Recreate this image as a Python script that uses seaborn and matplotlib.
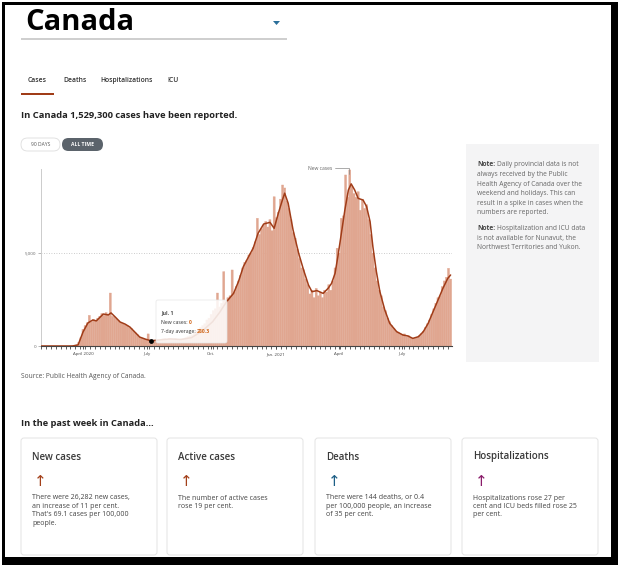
import matplotlib
matplotlib.use('Agg')
import matplotlib.pyplot as plt
import seaborn as sns
import pandas as pd
from matplotlib.patches import Rectangle, FancyBboxPatch, Polygon
from matplotlib.ticker import FixedLocator, MultipleLocator

sns.set_style('white')
plt.rcParams['font.family'] = ['Open Sans', 'DejaVu Sans']

# ---------------- data ----------------
start_date = '2020-02-01'
bar_dates = pd.date_range(start_date, '2021-09-10', freq='3D')
bar_cases = [
    0, 0, 0, 0, 0, 0, 0, 0, 0, 0, 0, 0, 0, 0, 5, 10, 30,
    60, 200, 450, 900, 1100, 1250, 1650, 1300, 1420, 1350, 1500, 1600, 1750, 1650, 1800, 1700,
    2850, 1600, 1550, 1450, 1350, 1250, 1200, 1150, 1100, 1000, 950, 800, 700, 600, 480, 430,
    380, 350, 650, 300, 250, 300, 330, 350, 320, 380, 400, 350, 420, 380, 360, 400,
    330, 350, 380, 400, 450, 500, 550, 600, 700, 800, 900, 1000, 1100, 1200, 1400, 1500,
    1700, 1900, 2000, 2850, 2100, 2300, 4000, 2400, 2600, 2700, 4090, 2900, 3200, 3500, 3800, 4200,
    4500, 4600, 4900, 5000, 5300, 5600, 6870, 6000, 6300, 6500, 6700, 6400, 6800, 6200, 8030, 6900,
    7200, 7900, 8660, 8500, 7800, 7400, 6800, 6100, 5800, 5200, 4700, 4200, 4100, 3600, 3300, 2800,
    3000, 2600, 3100, 2700, 2900, 2600, 3000, 2900, 3300, 3000, 3500, 4200, 5260, 5000, 6870, 7000,
    9200, 8000, 9470, 8600, 8200, 8000, 8300, 7300, 7900, 7400, 7600, 6800, 6000, 5000, 4200, 3500,
    3000, 2700, 2100, 1900, 1500, 1300, 1100, 950, 800, 750, 650, 600, 650, 500, 550, 450,
    400, 420, 450, 550, 650, 800, 1000, 1200, 1400, 1700, 2000, 2300, 2600, 2700, 3200, 3500,
    3700, 4180, 3600,
]
bar_day = [(d - pd.Timestamp(start_date)).days for d in bar_dates][:len(bar_cases)]

# 7-day average, days since 2020-02-01
avg_day = [0, 45, 53, 60, 67, 74, 79, 89, 96, 100, 106, 113, 120, 127, 134, 141, 149, 157,
           170, 185, 200, 215, 230, 245, 255, 265, 275, 282, 289, 296, 303, 310, 318, 327,
           333, 339, 344, 348, 353, 360, 368, 375, 382, 387, 394, 403, 410, 415, 420, 424,
           429, 434, 439, 443, 448, 453, 460, 465, 470, 474, 479, 484, 491, 498, 508, 517,
           524, 531, 539, 546, 553, 560, 567, 574, 581, 585]
avg_cases = [0, 0, 60, 750, 1240, 1400, 1350, 1720, 1670, 1780, 1560, 1290, 1180, 1020, 750, 480, 370, 280,
             330, 380, 350, 450, 800, 1300, 1800, 2380, 2830, 3460, 4270, 4770, 5260, 6060, 6560, 6650,
             6330, 7140, 7760, 8220, 7680, 6240, 4990, 4090, 3280, 2920, 2980, 2830, 3100, 3370, 3910, 4810,
             6060, 7320, 8390, 8720, 8390, 7940, 7850, 7500, 6690, 5340, 4000, 2920, 1940, 1220, 770, 590,
             540, 410, 500, 770, 1220, 1850, 2470, 3100, 3640, 3820]

tick_dates = ['2020-04-01', '2020-07-01', '2020-10-01', '2021-01-01', '2021-04-01', '2021-07-01']
tick_labels = ['April 2020', 'July', 'Oct.', 'Jan. 2021', 'April', 'July']
y_ticks = [0, 5000]
y_tick_labels = ['0', '5,000']

tabs = ['Cases', 'Deaths', 'Hospitalizations', 'ICU']
card_titles = ['New cases', 'Active cases', 'Deaths', 'Hospitalizations']
card_texts = [
    ["There were 26,282 new cases,", "an increase of 11 per cent.", "That's 69.1 cases per 100,000", "people."],
    ["The number of active cases", "rose 19 per cent."],
    ["There were 144 deaths, or 0.4", "per 100,000 people, an increase", "of 35 per cent."],
    ["Hospitalizations rose 27 per", "cent and ICU beds filled rose 25", "per cent."],
]
card_arrow_colors = ['#a3401a', '#a3401a', '#1d5f86', '#8a1c6a']
note1 = ["Daily provincial data is not", "always received by the Public", "Health Agency of Canada over the",
         "weekend and holidays. This can", "result in a spike in cases when the", "numbers are reported."]
note2 = ["Hospitalization and ICU data", "is not available for Nunavut, the", "Northwest Territories and Yukon."]

BAR = '#e0a690'
LINE = '#a03c18'
W, H = 624, 572

fig = plt.figure(figsize=(W / 100, H / 100), dpi=100)
renderer = fig.canvas.get_renderer()

# page layer (pixel coordinates, y downwards)
page = fig.add_axes([0, 0, 1, 1], zorder=0)
page.set_xlim(0, W)
page.set_ylim(H, 0)
page.axis('off')


def text_pair(axis, x, y, first, second, size, kw1, kw2, gap=1.5):
    t = axis.text(x, y, first, fontsize=size, va='center', ha='left', **kw1)
    bb = t.get_window_extent(renderer)
    x2 = axis.transData.inverted().transform((bb.x1, bb.y0))[0]
    axis.text(x2 + gap, y, second, fontsize=size, va='center', ha='left', **kw2)


page.add_patch(Rectangle((2, 2), 616, 563, facecolor='black', edgecolor='none'))
page.add_patch(Rectangle((5, 5), 606, 552, facecolor='white', edgecolor='none'))

page.text(25, 23, 'Canada', fontsize=21, fontweight='bold', color='black', va='center', ha='left')
page.add_patch(Rectangle((21, 38), 266, 2, facecolor='#cfcfcf', edgecolor='none'))
page.add_patch(Polygon([(273, 21), (280, 21), (276.5, 25)], closed=True, facecolor='#2b6f9a', edgecolor='none'))

tab_x = [28, 63, 100, 167]
for t, x in zip(tabs, tab_x):
    page.text(x, 81, t, fontsize=4.9, fontweight='semibold', color='#333333', va='center', ha='left')
page.add_patch(Rectangle((21, 93.6), 579, 0.8, facecolor='#dddddd', edgecolor='none'))
page.add_patch(Rectangle((21, 92.5), 33, 2, facecolor=LINE, edgecolor='none'))

page.text(21, 116, 'In Canada 1,529,300 cases have been reported.', fontsize=6.75, fontweight='bold',
          color='#222222', va='center', ha='left')

page.add_patch(FancyBboxPatch((21, 138), 39, 13, boxstyle='round,pad=0,rounding_size=6.5',
                              facecolor='white', edgecolor='#dddddd', lw=0.6))
page.text(40.5, 144.5, '90 DAYS', fontsize=3.6, color='#555555', va='center', ha='center')
page.add_patch(FancyBboxPatch((62, 138), 41, 13, boxstyle='round,pad=0,rounding_size=6.5',
                              facecolor='#5b636b', edgecolor='none'))
page.text(82.5, 144.5, 'ALL TIME', fontsize=3.6, color='white', fontweight='bold', va='center', ha='center')

# note panel
NOTE_FS = 4.8
page.add_patch(Rectangle((466, 144), 133, 218, facecolor='#f4f4f5', edgecolor='none'))
for i, line in enumerate(note1):
    y = 165 + i * 9.6
    if i == 0:
        text_pair(page, 477, y, 'Note:', line, NOTE_FS, dict(fontweight='bold', color='#444444'),
                  dict(color='#666666'))
    else:
        page.text(477, y, line, fontsize=NOTE_FS, color='#666666', va='center')
for i, line in enumerate(note2):
    y = 229 + i * 9.2
    if i == 0:
        text_pair(page, 477, y, 'Note:', line, NOTE_FS, dict(fontweight='bold', color='#444444'),
                  dict(color='#666666'))
    else:
        page.text(477, y, line, fontsize=NOTE_FS, color='#666666', va='center')

page.text(21, 377, 'Source: Public Health Agency of Canada.', fontsize=4.8, color='#555555', va='center')
page.text(21, 423, 'In the past week in Canada...', fontsize=6.7, fontweight='bold', color='#222222', va='center')

card_x = [21, 167, 315, 462]
for cx, title, lines, col in zip(card_x, card_titles, card_texts, card_arrow_colors):
    page.add_patch(FancyBboxPatch((cx, 438), 136, 117, boxstyle='round,pad=0,rounding_size=3',
                                  facecolor='white', edgecolor='#e3e3e3', lw=0.7))
    page.text(cx + 11, 457, title, fontsize=7, fontweight='semibold', color='#3a3a3a', va='center')
    page.text(cx + 19, 482, '↑', fontsize=11, color=col, va='center', ha='center',
              family=['DejaVu Sans'])
    for i, line in enumerate(lines):
        page.text(cx + 11, 498 + i * 8.4, line, fontsize=5.0, color='#444444', va='center')

# ---------------- chart ----------------
ax = fig.add_axes([41 / W, 1 - 346 / H, 411 / W, 177 / H], zorder=1)
ax.patch.set_alpha(0)
sns.barplot(x=bar_day, y=bar_cases, native_scale=True, color=BAR, saturation=1,
            width=1.0, edgecolor=BAR, linewidth=0.25, ax=ax, zorder=2)
for p in ax.patches:
    p.set_snap(False)
sns.lineplot(x=avg_day, y=avg_cases, color=LINE, lw=1.1, ax=ax, zorder=3)
ax.set_xlim(0, 587)
ax.set_ylim(0, 9520)
ax.axhline(5000, ls=(0, (1, 2)), color='#bbbbbb', lw=0.6, zorder=1)

tick_pos = [(pd.Timestamp(d) - pd.Timestamp(start_date)).days for d in tick_dates]
ax.xaxis.set_major_locator(FixedLocator(tick_pos))
ax.set_xticklabels(tick_labels)
ax.xaxis.set_minor_locator(MultipleLocator(7))
ax.set_yticks(y_ticks)
ax.set_yticklabels(y_tick_labels)
ax.tick_params(axis='x', which='major', length=2.5, width=0.6, color='#444444', labelsize=3.2,
               labelcolor='#444444', pad=2, bottom=True)
ax.tick_params(axis='x', which='minor', length=2, width=0.6, color='#444444', bottom=True)
ax.tick_params(axis='y', length=2, width=0.5, color='#999999', labelsize=3.2, labelcolor='#666666',
               pad=1.5, left=True)
ax.set_xlabel('')
ax.set_ylabel('')
for s in ['top', 'right']:
    ax.spines[s].set_visible(False)
ax.spines['left'].set_color('#cccccc')
ax.spines['left'].set_linewidth(0.7)
ax.spines['bottom'].set_color('#444444')
ax.spines['bottom'].set_linewidth(0.8)
if ax.get_legend():
    ax.get_legend().remove()

# ---------------- overlay (tooltip, annotation) ----------------
top = fig.add_axes([0, 0, 1, 1], zorder=5)
top.set_xlim(0, W)
top.set_ylim(H, 0)
top.axis('off')
top.patch.set_alpha(0)

top.text(332, 168, 'New cases', fontsize=3.6, color='#666666', va='center', ha='right')
top.plot([335, 349, 349], [168, 168, 174], color='#888888', lw=0.5)

top.add_patch(FancyBboxPatch((156, 300), 71, 43, boxstyle='round,pad=0,rounding_size=2',
                             facecolor='white', edgecolor='#e6e6e6', lw=0.6, alpha=0.85))
top.text(161, 313, 'Jul. 1', fontsize=3.9, fontweight='semibold', color='#222222', va='center')
text_pair(top, 161, 323, 'New cases:', '0', 3.7, dict(color='#333333'),
          dict(color='#d2691e', fontweight='bold'), gap=1.2)
text_pair(top, 161, 331.5, '7-day average:', '280.3', 3.7, dict(color='#333333'),
          dict(color='#d2691e', fontweight='bold'), gap=1.2)
top.scatter([151], [341], s=6, color='black', zorder=6)

fig.savefig('out.png', dpi=100)
